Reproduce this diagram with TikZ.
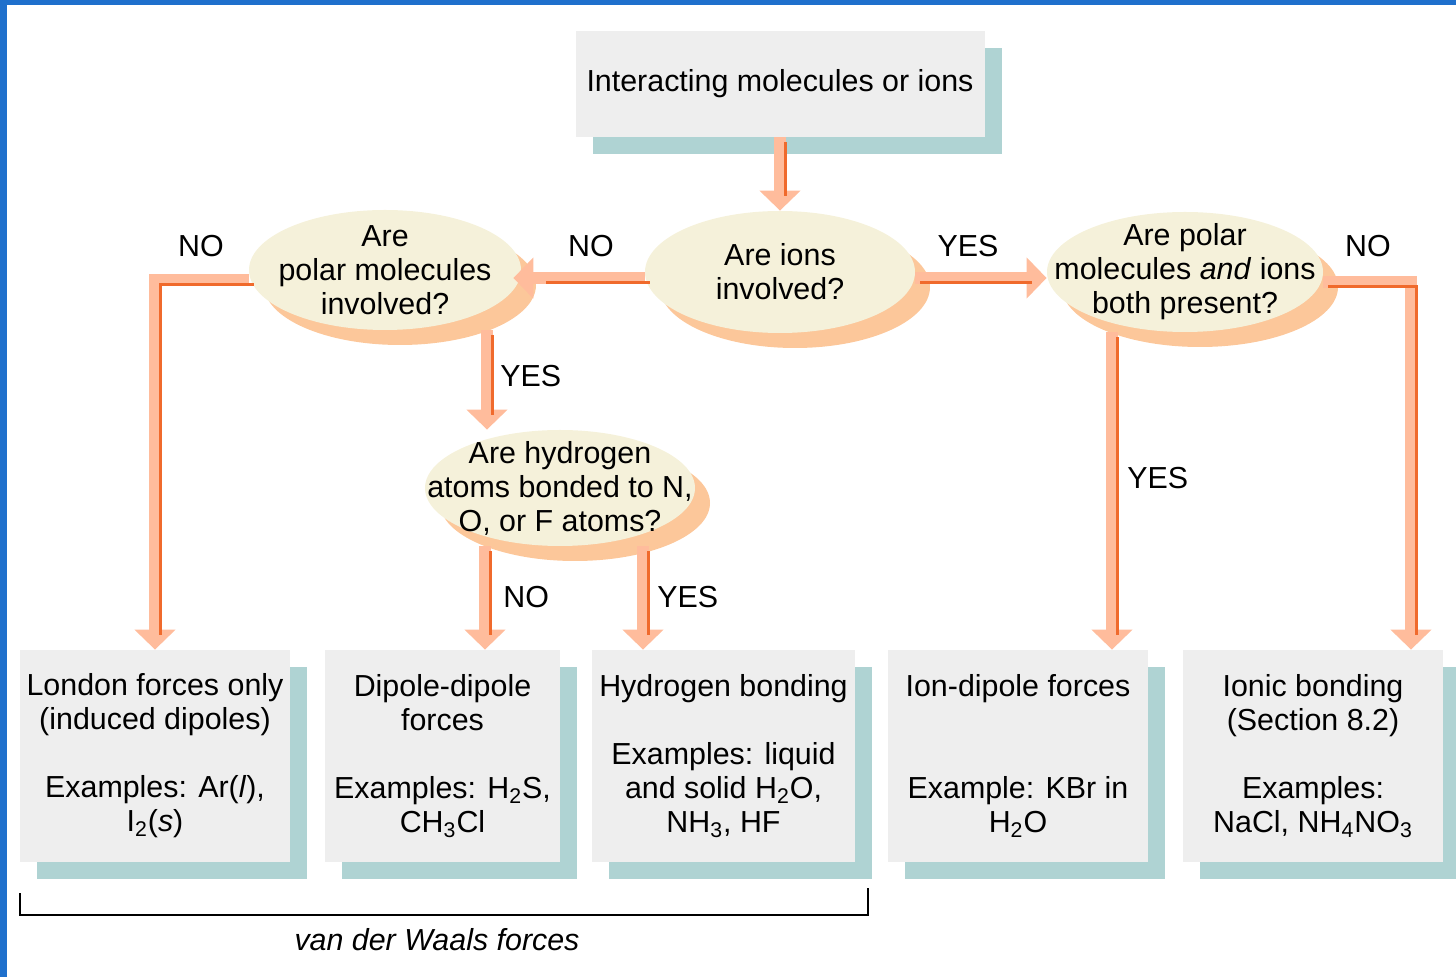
\documentclass[tikz,border=0pt]{standalone}
\usepackage{fontspec}
\setmainfont{Liberation Sans}
\usetikzlibrary{arrows.meta,shapes.geometric,shadows,positioning}
\definecolor{framebl}{HTML}{1F70CC}
\definecolor{qfill}{HTML}{F5F1DA}
\definecolor{qshade}{HTML}{FCC79A}
\definecolor{boxfill}{HTML}{EEEEEE}
\definecolor{boxshade}{HTML}{AFD3D3}
\definecolor{flowpeach}{HTML}{FFBC9C}
\definecolor{flowedge}{HTML}{F06A2C}

\begin{document}
\begin{tikzpicture}[x=0.5pt,y=-0.5pt,font=\fontsize{15.2}{17}\selectfont]
  \tikzstyle{query}=[ellipse,fill=qfill,align=center,inner sep=-22pt,
    drop shadow={shadow xshift=7.5pt,shadow yshift=-7.5pt,fill=qshade,opacity=1}]
  \tikzstyle{result}=[rectangle,fill=boxfill,align=center,inner sep=0pt,minimum height=106pt,
    drop shadow={shadow xshift=8.5pt,shadow yshift=-8.5pt,fill=boxshade,opacity=1}]
  \tikzstyle{answer}=[inner sep=0pt]
  \tikzstyle{flow}=[line width=6pt,draw=flowpeach,-{Triangle[length=10pt,width=20pt]},
    postaction={draw=flowedge,line width=1.5pt,-,shorten >=10pt,
      transform canvas={xshift=2.5pt,yshift=-2.5pt}}]
  \useasboundingbox (0,0) rectangle (1456,977);
  \fill[framebl] (0,0) rectangle (1456,5);
  \fill[framebl] (0,0) rectangle (7,977);

  % questions
  \node[result,minimum width=204.5pt,minimum height=53pt] (top) at (780,84) {Interacting molecules or ions};
  \node[query,minimum width=135pt,minimum height=61pt] (ions) at (780,272) {Are ions\\involved?};
  \node[query,minimum width=136pt,minimum height=60pt] (polar) at (385,270) {Are\\polar molecules\\involved?};
  \node[query,minimum width=138pt,minimum height=60pt] (pboth) at (1185,272) {Are polar\\molecules \textit{and} ions\\both present?};
  \node[query,minimum width=135pt,minimum height=58pt] (hyd) at (560,488) {Are hydrogen\\atoms bonded to N,\\O, or F atoms?};

  % kinds of forces
  \node[result,minimum width=135pt] (london) at (155,756) {London forces only\\(induced dipoles)\\[17pt]Examples: Ar(\textit{l}),\\I\textsubscript{2}(\textit{s})};
  \node[result,minimum width=117.5pt] (dipole) at (442.5,756) {Dipole-dipole\\forces\\[17pt]Examples: H\textsubscript{2}S,\\CH\textsubscript{3}Cl};
  \node[result,minimum width=131.5pt] (hbond) at (723.5,756) {Hydrogen bonding\\[17pt]Examples: liquid\\and solid H\textsubscript{2}O,\\NH\textsubscript{3}, HF};
  \node[result,minimum width=130pt] (iondip) at (1018,756) {Ion-dipole forces\\[34pt]Example: KBr in\\H\textsubscript{2}O};
  \node[result,minimum width=130pt] (ionic) at (1313,756) {Ionic bonding\\(Section 8.2)\\[17pt]Examples:\\NaCl, NH\textsubscript{4}NO\textsubscript{3}};

  % arrows
  \draw[flow] (top) -- (ions);
  \coordinate (ino) at ([yshift=-3pt]ions.west);
  \coordinate (iyes) at ([yshift=-3pt]ions.east);
  \draw[flow,shorten >=-4pt] (ino) -- (ino -| polar.east);
  \draw[flow] (iyes) -- (iyes -| pboth.west);
  \draw[flow] ([yshift=-5pt]polar.west) -| (london.north);
  \draw[flow] ([yshift=-5pt]pboth.east) -| ([xshift=49pt]ionic.north);
  \coordinate (pyes) at ([xshift=51pt]polar.south);
  \draw[flow] (pyes) -- (pyes |- hyd.north);
  \coordinate (hno) at ([xshift=-37.5pt]hyd.south);
  \coordinate (hyes) at ([xshift=41.5pt]hyd.south);
  \draw[flow] (hno) -- (hno |- dipole.north);
  \draw[flow] (hyes) -- (hyes |- hbond.north);
  \coordinate (byes) at ([xshift=-36.5pt]pboth.south);
  \draw[flow] (byes) -- (byes |- iondip.north);

  % answers
  \node[answer] (nopol) at (201,246) {NO};
  \node[answer] (noion) at (591,246) {NO};
  \node[answer] (yesion) at (968,246) {YES};
  \node[answer] (noboth) at (1368,246) {NO};
  \node[answer,anchor=west] (yespol) at (500,376) {YES};
  \node[answer,anchor=west] (nohyd) at (503,597) {NO};
  \node[answer,anchor=west] (yeshyd) at (657,597) {YES};
  \node[answer,anchor=west] (yesboth) at (1127,478) {YES};

  % bracket
  \draw[line width=1pt] (20,893) -- (20,915) -- (868,915) -- (868,888);
  \node[font=\fontsize{15.2}{17}\selectfont\itshape] (vdw) at (437,940) {van der Waals forces};
\end{tikzpicture}
\end{document}
